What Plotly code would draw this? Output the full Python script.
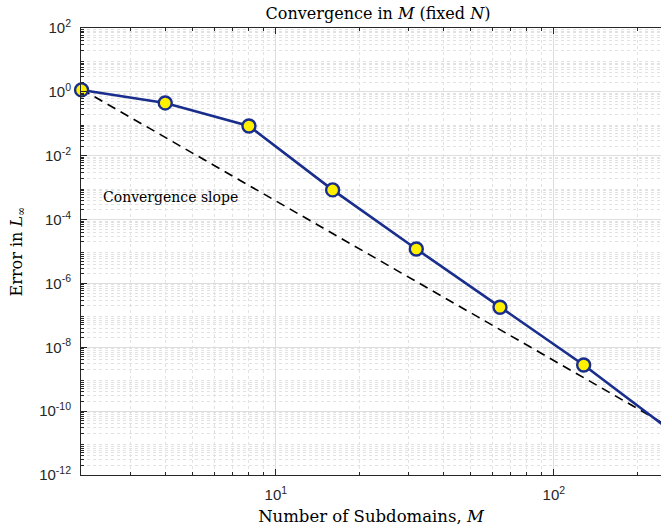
import numpy as np
import plotly.graph_objects as go

M = [2, 4, 8, 16, 32, 64, 128, 256]
err = [1.15, 0.45, 0.085, 8.5e-4, 1.2e-5, 1.8e-7, 2.8e-9, 2.9e-11]
slope_M = [2, 256]
slope_err = [1.2, 1.2 * (256 / 2) ** -5]

ytick_vals = [10.0 ** k for k in range(-12, 3, 2)]
ytick_text = ["10<sup>%d</sup>" % k for k in range(-12, 3, 2)]
xtick_vals = [10, 100]
xtick_text = ["10<sup>1</sup>", "10<sup>2</sup>"]

navy = "rgb(25,45,140)"
fig = go.Figure()
fig.add_trace(go.Scatter(x=slope_M, y=slope_err, mode="lines",
                         line=dict(color="black", width=1.6, dash="9px,6px"),
                         showlegend=False, cliponaxis=True))
fig.add_trace(go.Scatter(x=M, y=err, mode="lines+markers",
                         line=dict(color=navy, width=2.6),
                         marker=dict(size=13, color="rgb(255,240,0)",
                                     line=dict(color=navy, width=2.4)),
                         showlegend=False, cliponaxis=False))

serif = "DejaVu Serif, serif"
sans = "Liberation Sans, Arial, sans-serif"
gridc = "rgb(222,222,222)"
minorc = "rgb(226,226,226)"
axc = "rgb(38,38,38)"

fig.update_layout(
    width=661, height=531,
    margin=dict(l=81, r=0, t=28, b=56),
    paper_bgcolor="white", plot_bgcolor="white",
    title=dict(text="Convergence in <i>M</i> (fixed <i>N</i>)",
               x=378 / 661, xanchor="center",
               y=1 - 13 / 531, yanchor="middle",
               font=dict(family=serif, size=16, color="black")),
    annotations=[dict(x=np.log10(2.34), y=-3.29, xref="x", yref="y",
                      text="Convergence slope", showarrow=False,
                      xanchor="left", yanchor="middle",
                      font=dict(family=serif, size=14, color="black"))],
)
fig.update_xaxes(
    type="log", range=[np.log10(2) - 0.002, np.log10(2) - 0.002 + 580 / 278],
    tickvals=xtick_vals, ticktext=xtick_text,
    ticks="inside", ticklen=6, tickcolor=axc, ticklabelstandoff=6,
    showline=True, linecolor=axc, linewidth=1, mirror="ticks",
    showgrid=True, gridcolor=gridc, gridwidth=1,
    tickfont=dict(family=sans, size=15, color=axc),
    title=dict(text="Number of Subdomains, <i>M</i>", standoff=8,
               font=dict(family=serif, size=16.5, color="black")),
    minor=dict(tickvals=[v * d for d in (1, 10, 100) for v in range(2, 10)],
               ticks="inside", ticklen=3, tickcolor=axc,
               showgrid=True, gridcolor=minorc, griddash="dot", gridwidth=1),
    zeroline=False,
)
fig.update_yaxes(
    type="log", range=[-12, 2],
    tickvals=ytick_vals, ticktext=ytick_text,
    ticks="inside", ticklen=6, tickcolor=axc, ticklabelstandoff=6,
    showline=True, linecolor=axc, linewidth=1, mirror=False,
    showgrid=True, gridcolor=gridc, gridwidth=1,
    tickfont=dict(family=sans, size=15, color=axc),
    title=dict(text="Error in <i>L</i><sub>∞</sub>", standoff=12,
               font=dict(family=serif, size=16, color="black")),
    minor=dict(tickvals=[v * 10.0 ** k for k in range(-12, 2) for v in range(2, 10)],
               ticks="inside", ticklen=3, tickcolor=axc,
               showgrid=True, gridcolor=minorc, griddash="dot", gridwidth=1),
    zeroline=False,
)
fig.write_html("out.html")
